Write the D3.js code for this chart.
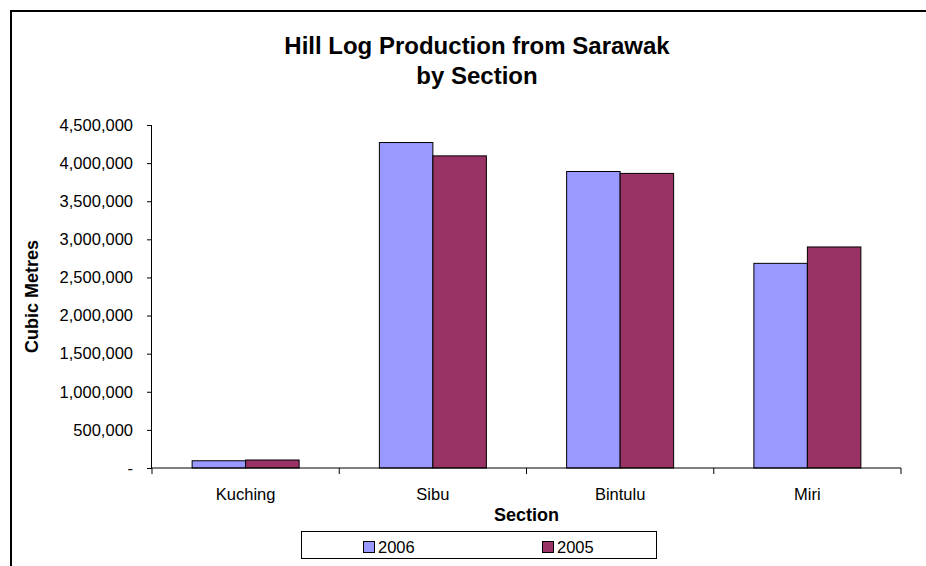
<!DOCTYPE html>
<html>
<head>
<meta charset="utf-8">
<script src="https://cdn.jsdelivr.net/npm/d3@7"></script>
<style>
  body { margin: 0; background: #fff; }
  text { font-family: "Liberation Sans", Arial, sans-serif; }
</style>
</head>
<body>
<div id="chart"></div>
<script>
const sections = ["Kuching", "Sibu", "Bintulu", "Miri"];
const years = ["2006", "2005"];
const values2006 = [95000, 4270000, 3890000, 2685000];
const values2005 = [105000, 4095000, 3865000, 2900000];
const yTicks = [0, 500000, 1000000, 1500000, 2000000, 2500000, 3000000, 3500000, 4000000, 4500000];
const colors = ["#9999ff", "#993366"];

function main() {
    const width = 926;
    const height = 566;

    const svg = d3.select("#chart").append("svg")
        .attr("width", width)
        .attr("height", height)

    // outer chart frame (runs off right/bottom like the original)
    svg.append("rect")
        .attr("x", 11)
        .attr("y", 11)
        .attr("width", 940)
        .attr("height", 600)
        .attr("fill", "none")
        .attr("stroke", "#000")
        .attr("stroke-width", 2)

    const left = 152, right = 901, top = 125, bottom = 468;

    const x = d3.scaleBand().domain(sections).range([left, right])
    const xInner = d3.scaleBand().domain(years)
        .range([0, x.bandwidth()]).paddingInner(0).paddingOuter(0.75)
    const y = d3.scaleLinear().domain([0, 4500000]).range([bottom, top])

    const series = [values2006, values2005];

    const groups = svg.append("g").selectAll("g")
        .data(sections)
        .join("g")
        .attr("transform", d => `translate(${x(d)},0)`)

    groups.selectAll("rect")
        .data((d, i) => years.map((yr, j) => ({ yr: yr, v: series[j][i], c: colors[j] })))
        .join("rect")
        .attr("x", d => xInner(d.yr))
        .attr("y", d => y(d.v))
        .attr("width", xInner.bandwidth())
        .attr("height", d => bottom - y(d.v))
        .attr("fill", d => d.c)
        .attr("stroke", "#000")
        .attr("stroke-width", 1)

    // y axis
    const yAxis = svg.append("g")
        .attr("transform", `translate(${left},0)`)
        .call(d3.axisLeft(y)
            .tickValues(yTicks)
            .tickSize(5)
            .tickPadding(14)
            .tickFormat(d => d === 0 ? "-" : d3.format(",")(d)))
    yAxis.select(".domain").attr("d", `M-0.5,${top}V${bottom}`)
    yAxis.selectAll("text").attr("font-size", 16.5).attr("font-family", null).attr("fill", "#000")

    // x axis
    const xAxis = svg.append("g")
        .attr("transform", `translate(0,${bottom})`)
    xAxis.append("line")
        .attr("x1", left).attr("x2", right)
        .attr("stroke", "#000")
    const boundaries = sections.map(s => x(s)).concat([right]);
    xAxis.selectAll(".tk")
        .data(boundaries)
        .join("line")
        .attr("class", "tk")
        .attr("x1", d => d).attr("x2", d => d)
        .attr("y1", 0).attr("y2", 6)
        .attr("stroke", "#000")
    xAxis.selectAll(".lbl")
        .data(sections)
        .join("text")
        .attr("class", "lbl")
        .attr("x", d => x(d) + x.bandwidth() / 2)
        .attr("y", 32)
        .attr("text-anchor", "middle")
        .attr("font-size", 16.5)
        .text(d => d)

    // titles
    const title = svg.append("text")
        .attr("text-anchor", "middle")
        .attr("font-weight", "bold")
        .attr("font-size", 24)
    title.append("tspan").attr("x", 477).attr("y", 54).text("Hill Log Production from Sarawak")
    title.append("tspan").attr("x", 477).attr("y", 84).text("by Section")

    svg.append("text")
        .attr("transform", `translate(38,${(top + bottom) / 2}) rotate(-90)`)
        .attr("text-anchor", "middle")
        .attr("font-weight", "bold")
        .attr("font-size", 18)
        .text("Cubic Metres")

    svg.append("text")
        .attr("x", (left + right) / 2)
        .attr("y", 521)
        .attr("text-anchor", "middle")
        .attr("font-weight", "bold")
        .attr("font-size", 18)
        .text("Section")

    // legend
    const legend = svg.append("g")
    legend.append("rect")
        .attr("x", 301.5).attr("y", 531.5)
        .attr("width", 355).attr("height", 27)
        .attr("fill", "#fff").attr("stroke", "#000")
    const legendX = [363, 542];
    const items = legend.selectAll(".item")
        .data(years)
        .join("g")
        .attr("class", "item")
        .attr("transform", (d, i) => `translate(${legendX[i]},541)`)
    items.append("rect")
        .attr("x", 0.5).attr("y", 0.5)
        .attr("width", 11).attr("height", 11)
        .attr("fill", (d, i) => colors[i])
        .attr("stroke", "#000")
    items.append("text")
        .attr("x", 15)
        .attr("y", 12)
        .attr("font-size", 16.5)
        .text(d => d)
}
main();
</script>
</body>
</html>
